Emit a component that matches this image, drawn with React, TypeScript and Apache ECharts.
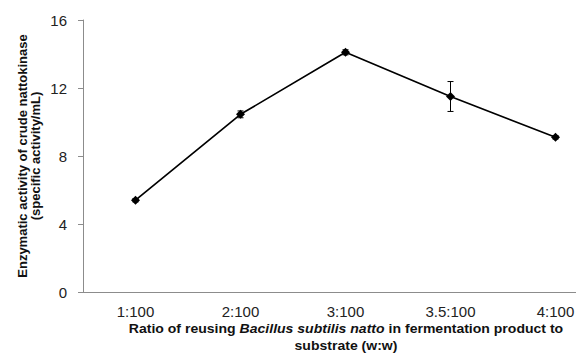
import React, { useEffect, useRef } from "react";
import * as echarts from "echarts";

const categories = ["1:100", "2:100", "3:100", "3.5:100", "4:100"];
const activity = [5.4, 10.45, 14.1, 11.5, 9.1];
const sd = [0.1, 0.2, 0.15, 0.88, 0.1];
const yTicks = { min: 0, max: 16, interval: 4 };

export default function App() {
  const ref = useRef<HTMLDivElement>(null);
  useEffect(() => {
    document.body.style.margin = "0";
    const chart = echarts.init(ref.current!, null, { renderer: "svg" });
    const errData = categories.map((c, i) => [i, activity[i] - sd[i], activity[i] + sd[i]]);
    chart.setOption({
      animation: false,
      backgroundColor: "#ffffff",
      grid: { left: 83, top: 20, bottom: 68, right: 0, containLabel: false },
      xAxis: {
        type: "category",
        data: categories,
        boundaryGap: true,
        axisLine: { lineStyle: { color: "#8c8c8c", width: 1 } },
        axisTick: { alignWithLabel: true, length: 5, lineStyle: { color: "#8c8c8c" } },
        axisLabel: { color: "#222", fontSize: 15, fontFamily: "Liberation Sans, Arial", margin: 12 },
      },
      yAxis: {
        type: "value",
        min: yTicks.min,
        max: yTicks.max,
        interval: yTicks.interval,
        splitLine: { show: false },
        axisLine: { show: true, lineStyle: { color: "#8c8c8c", width: 1 } },
        axisTick: { show: true, length: 5, lineStyle: { color: "#8c8c8c" } },
        axisLabel: { color: "#222", fontSize: 15, fontFamily: "Liberation Sans, Arial", margin: 16 },
      },
      graphic: [
        {
          type: "text",
          x: 29,
          y: 156,
          rotation: Math.PI / 2,
          style: {
            text: "Enzymatic activity of crude nattokinase\n(specific activity/mL)",
            font: "bold 13px Liberation Sans, Arial",
            fill: "#111",
            align: "center",
            verticalAlign: "middle",
            lineHeight: 13,
          },
        },
        {
          type: "text",
          x: 346,
          y: 337,
          scaleX: 1.17,
          style: {
            text: "{n|Ratio of reusing }{i|Bacillus subtilis natto}{n| in fermentation product to}\n{n|substrate (w:w)}",
            align: "center",
            verticalAlign: "middle",
            fill: "#111",
            lineHeight: 17,
            rich: {
              n: { font: "bold 12px Liberation Sans, Arial", fill: "#111", lineHeight: 17 },
              i: { font: "italic bold 12px Liberation Sans, Arial", fill: "#111", lineHeight: 17 },
            },
          },
        },
      ],
      series: [
        {
          type: "line",
          data: activity,
          symbol: "diamond",
          symbolSize: 9,
          lineStyle: { color: "#000", width: 1.7 },
          itemStyle: { color: "#000" },
          z: 3,
        },
        {
          type: "custom",
          data: errData,
          z: 4,
          renderItem: (params: any, api: any) => {
            const x = api.value(0);
            const lo = api.coord([x, api.value(1)]);
            const hi = api.coord([x, api.value(2)]);
            const cap = 3;
            const style = { stroke: "#000", lineWidth: 1 };
            return {
              type: "group",
              children: [
                { type: "line", shape: { x1: lo[0], y1: lo[1], x2: hi[0], y2: hi[1] }, style },
                { type: "line", shape: { x1: lo[0] - cap, y1: lo[1], x2: lo[0] + cap, y2: lo[1] }, style },
                { type: "line", shape: { x1: hi[0] - cap, y1: hi[1], x2: hi[0] + cap, y2: hi[1] }, style },
              ],
            };
          },
        },
      ],
    });
    return () => chart.dispose();
  }, []);
  return (
    <div style={{ width: 576, height: 360, overflow: "hidden", position: "relative" }}>
      <div ref={ref} style={{ width: 608, height: 360 }} />
    </div>
  );
}
